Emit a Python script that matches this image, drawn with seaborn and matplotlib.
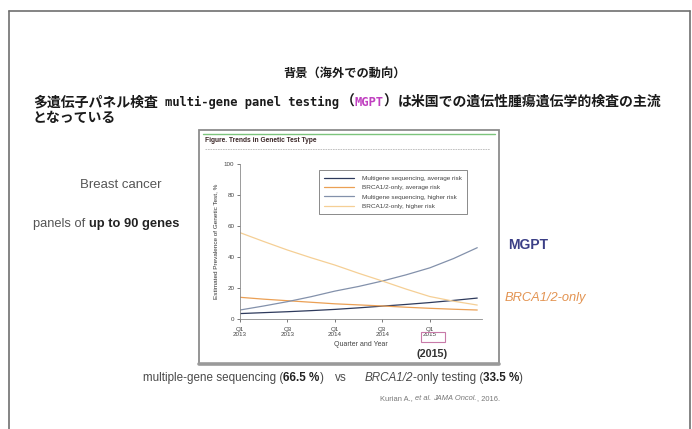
import matplotlib
matplotlib.use("Agg")
import matplotlib.pyplot as plt
from matplotlib.patches import Rectangle
from matplotlib.lines import Line2D
import pandas as pd
import seaborn as sns

# ---- data -------------------------------------------------------------
quarter_index = [0, 1, 2, 3, 4, 5, 6, 7, 8, 9, 10]
tick_positions = [0, 2, 4, 6, 8]
tick_labels = ["Q1\n2013", "Q3\n2013", "Q1\n2014", "Q3\n2014", "Q1\n2015"]

mgs_average = [3.5, 4.1, 4.7, 5.4, 6.2, 7.2, 8.3, 9.4, 10.6, 12.0, 13.5]
brca_average = [14.0, 12.8, 11.8, 10.8, 9.8, 9.1, 8.4, 7.6, 6.9, 6.3, 5.8]
mgs_higher = [5.8, 8.4, 11.2, 14.4, 18.0, 21.0, 24.5, 28.5, 33.0, 39.0, 46.0]
brca_higher = [55.7, 50.0, 44.5, 39.5, 34.8, 29.5, 24.5, 19.3, 14.5, 11.5, 9.0]

series_names = [
    "Multigene sequencing, average risk",
    "BRCA1/2-only, average risk",
    "Multigene sequencing, higher risk",
    "BRCA1/2-only, higher risk",
]
series_colors = ["#2e3a5c", "#eba055", "#8391ab", "#f5cf95"]

# ---- figure -------------------------------------------------------------
sns.set_theme(style="white")
plt.rcParams["font.family"] = ["Liberation Sans", "DejaVu Sans"]

W, H = 692, 429
fig = plt.figure(figsize=(W / 100, H / 100), dpi=100)
fig.patch.set_facecolor("white")


def fx(x):
    return x / W


def fy(y):
    return 1 - y / H


# slide frame
for xs, ys in [((8.5, 8.5), (11, 429)), ((690, 690), (11, 429)), ((8.5, 690), (11, 11))]:
    fig.add_artist(Line2D([fx(v) for v in xs], [fy(v) for v in ys],
                          color="#707070", lw=1.2, transform=fig.transFigure))

cjk = dict(family=["Noto Sans CJK JP", "DejaVu Sans"])
mono = dict(family=["DejaVu Sans Mono"])

renderer = fig.canvas.get_renderer()


def draw_runs(x, y, parts, **common):
    """Draw consecutive text pieces on one baseline, left to right."""
    for text, style, gap in parts:
        kw = dict(common)
        kw.update(style)
        t = fig.text(fx(x), fy(y), text, ha="left", va="center", **kw)
        x += t.get_window_extent(renderer=renderer).width + gap
    return x


# heading
fig.text(fx(345), fy(73), "背景（海外での動向）", ha="center", va="center",
         fontsize=8.8, fontweight="bold", color="#1a1a1a", **cjk)

draw_runs(33, 102, [
    ("多遺伝子パネル検査", cjk, 7),
    ("multi-gene panel testing", dict(mono, fontsize=8.7), 2),
    ("（", cjk, 0),
    ("MGPT", dict(mono, fontsize=8.7, color="#c040c0"), 0),
    ("）", cjk, 0),
    ("は米国での遺伝性腫瘍遺伝学的検査の主流", cjk, 0),
], fontsize=10, color="#1a1a1a", fontweight="bold")
fig.text(fx(33), fy(118), "となっている", ha="left", va="center",
         fontsize=10, color="#1a1a1a", fontweight="bold", **cjk)

# side notes
fig.text(fx(121), fy(185), "Breast cancer", ha="center", va="center",
         fontsize=9.5, color="#555555")
draw_runs(33, 224, [
    ("panels of", dict(color="#555555"), 4),
    ("up to 90 genes", dict(color="#222222", fontweight="bold"), 0),
], fontsize=9.3)
fig.text(fx(508), fy(245), "MGPT", ha="left", va="center",
         fontsize=10, color="#3b3f86", fontweight="bold")
fig.text(fx(505), fy(298), "BRCA1/2-only", ha="left", va="center",
         fontsize=9.3, color="#e39452", fontstyle="italic")

# bottom summary line
draw_runs(143, 378, [
    ("multiple-gene sequencing (", {}, 0),
    ("66.5 %", dict(fontweight="bold", color="#222222"), 0),
    (")", {}, 11),
    ("vs", {}, 18),
    ("BRCA1/2", dict(fontstyle="italic"), 0),
    ("-only testing (", {}, 0),
    ("33.5 %", dict(fontweight="bold", color="#222222"), 0),
    (")", {}, 0),
], fontsize=8.4, color="#4a4a4a")
draw_runs(380, 399, [
    ("Kurian A.,", {}, 2),
    ("et al.", dict(fontstyle="italic"), 2),
    ("JAMA Oncol.", dict(fontstyle="italic"), 0),
    (", 2016.", {}, 0),
], fontsize=5.4, color="#777777")

# embedded figure panel (kept behind the chart axes)
fig.add_artist(Rectangle((fx(199), fy(364)), (499 - 199) / W, (364 - 130) / H,
                         transform=fig.transFigure, facecolor="white",
                         edgecolor="#8c8c8c", lw=1.3, zorder=-2))
fig.add_artist(Line2D([fx(199), fx(499)], [fy(363.5), fy(363.5)],
                      color="#9a9a9a", lw=2.6, transform=fig.transFigure))
fig.add_artist(Line2D([fx(203), fx(495)], [fy(134), fy(134)],
                      color="#7cc47c", lw=1.0, transform=fig.transFigure))
fig.add_artist(Line2D([fx(205), fx(490)], [fy(149), fy(149)],
                      color="#b8b8b8", lw=0.6, ls=(0, (2, 1)),
                      transform=fig.transFigure))
fig.text(fx(205), fy(141), "Figure. Trends in Genetic Test Type", ha="left",
         va="center", fontsize=4.8, fontweight="bold", color="#3a2626")

# line chart
rows = []
for name, vals in zip(series_names, [mgs_average, brca_average, mgs_higher, brca_higher]):
    for q, v in zip(quarter_index, vals):
        rows.append({"quarter": q, "prevalence": v, "series": name})
df = pd.DataFrame(rows)

x_left, x_right = 240, 482
x_max = 10.2
ax = fig.add_axes([fx(x_left), fy(319), (x_right - x_left) / W, (319 - 164) / H])
ax.patch.set_alpha(0)
sns.lineplot(data=df, x="quarter", y="prevalence", hue="series",
             hue_order=series_names, palette=series_colors, lw=0.9, ax=ax)
ax.set_xlim(0, x_max)
ax.set_ylim(0, 100)
for side in ("top", "right"):
    ax.spines[side].set_visible(False)
for side in ("left", "bottom"):
    ax.spines[side].set_color("#8a8a8a")
    ax.spines[side].set_linewidth(0.6)
ax.set_xticks(tick_positions)
ax.set_xticklabels(tick_labels, linespacing=1.05)
ax.set_yticks([0, 20, 40, 60, 80, 100])
ax.tick_params(axis="both", labelsize=4.5, colors="#444444", length=2,
               width=0.5, pad=2, direction="out", bottom=True, left=True)
ax.tick_params(axis="x", pad=3.5)
ax.set_xlabel("Quarter and Year", fontsize=5, color="#444444", labelpad=3)
ax.set_ylabel("Estimated Prevalence of Genetic Test, %", fontsize=4.6,
              color="#333333", labelpad=4)

leg = ax.legend(loc="upper left", bbox_to_anchor=(fx(319), fy(170)),
                bbox_transform=fig.transFigure, fontsize=4.6, frameon=True,
                fancybox=False, handlelength=4.6, labelspacing=0.6,
                borderpad=0.85, handletextpad=1.3, borderaxespad=0)
leg.get_frame().set_edgecolor("#555555")
leg.get_frame().set_linewidth(0.6)
for txt in leg.get_texts():
    txt.set_color("#444444")

# highlight of the 2015 label
fig.add_artist(Rectangle((fx(421), fy(342)), 24 / W, 10 / H,
                         transform=fig.transFigure, facecolor="none",
                         edgecolor="#c87aa8", lw=0.8))
fig.text(fx(432), fy(354), "(2015)", ha="center", va="center",
         fontsize=7.8, fontweight="bold", color="#333333")

fig.savefig("out.png", dpi=100, facecolor="white")
